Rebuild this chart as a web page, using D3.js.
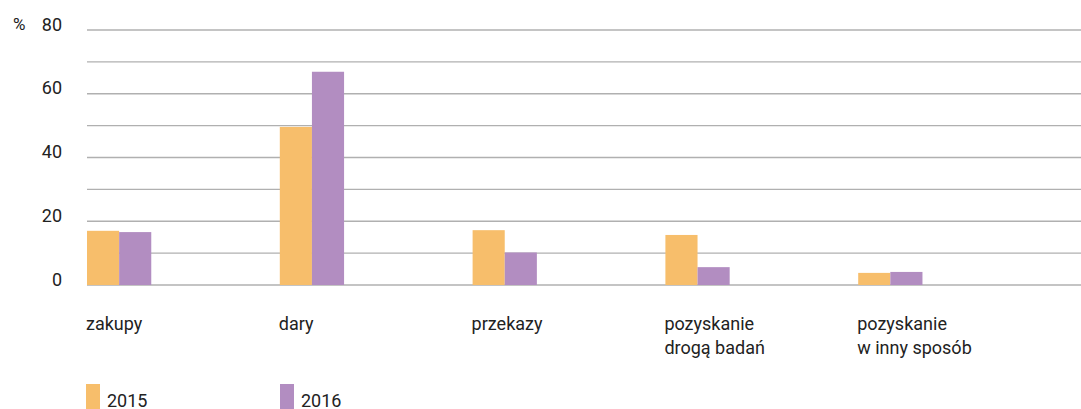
<!DOCTYPE html>
<html>
<head>
<meta charset="utf-8">
<script src="https://cdn.jsdelivr.net/npm/d3@7"></script>
<style>
  html, body { margin: 0; padding: 0; background: #fff; }
  svg { display: block; font-family: Roboto, "Noto Sans", sans-serif; }
</style>
</head>
<body>
<div id="chart"></div>
<script>
// dane (%)
var categories = [
  ["zakupy"],
  ["dary"],
  ["przekazy"],
  ["pozyskanie", "drogą badań"],
  ["pozyskanie", "w inny sposób"]
];
var series = ["2015", "2016"];
var values2015 = [17.0, 49.6, 17.2, 15.7, 3.8];
var values2016 = [16.6, 66.9, 10.2, 5.6, 4.1];
var yTicks = [0, 20, 40, 60, 80];
var gridTicks = [0, 10, 20, 30, 40, 50, 60, 70, 80];
var colors = ["#f7be6b", "#b28dc1"];

var width = 1081, height = 409;
var svg = d3.select("#chart").append("svg")
  .attr("width", width)
  .attr("height", height);

var catKeys = categories.map(function(c){ return c.join(" "); });
var x0 = d3.scaleBand().domain(catKeys).range([87, 1051]).paddingInner(0).paddingOuter(0);
var x1 = d3.scaleBand().domain(series).range([0, x0.bandwidth() / 3]);
var y = d3.scaleLinear().domain([0, 80]).range([285, 30]);

// linie siatki
svg.append("g")
  .selectAll("line")
  .data(gridTicks)
  .enter()
  .append("line")
  .attr("x1", 87)
  .attr("x2", width)
  .attr("y1", function(d){ return y(d); })
  .attr("y2", function(d){ return y(d); })
  .attr("stroke", "#b0b0b0")
  .attr("stroke-width", 1.4);

// oś Y
var yAxis = d3.axisLeft(y).tickValues(yTicks).tickSize(0).tickPadding(0);
var gy = svg.append("g").attr("transform", "translate(62,0)").call(yAxis);
gy.select(".domain").remove();
gy.selectAll("text")
  .attr("dy", 0)
  .attr("font-size", 18)
  .attr("font-family", "Roboto, sans-serif")
  .attr("fill", "#222");

svg.append("text")
  .attr("x", 13)
  .attr("y", y(80) - 0.5)
  .attr("font-size", 17)
  .attr("fill", "#222")
  .text("%");

// słupki
var data = [values2015, values2016];
var groups = svg.append("g")
  .selectAll("g")
  .data(series)
  .enter()
  .append("g")
  .attr("fill", function(d, i){ return colors[i]; });

groups.selectAll("rect")
  .data(function(s, i){
    return data[i].map(function(v, j){ return {key: catKeys[j], s: s, v: v}; });
  })
  .enter()
  .append("rect")
  .attr("x", function(d){ return x0(d.key) + x1(d.s); })
  .attr("width", x1.bandwidth())
  .attr("y", function(d){ return y(d.v); })
  .attr("height", function(d){ return y(0) - y(d.v); });

// etykiety kategorii
var labels = svg.append("g")
  .selectAll("text")
  .data(categories)
  .enter()
  .append("text")
  .attr("x", function(d, i){ return x0(catKeys[i]) - 1; })
  .attr("y", 330)
  .attr("font-size", 18)
  .attr("fill", "#222");

labels.selectAll("tspan")
  .data(function(d){ return d; })
  .enter()
  .append("tspan")
  .attr("x", function(){ return d3.select(this.parentNode).attr("x"); })
  .attr("dy", function(d, i){ return i == 0 ? 0 : 24; })
  .text(function(d){ return d; });

// legenda
var legendX = [86, 280];
var legend = svg.append("g")
  .selectAll("g")
  .data(series)
  .enter()
  .append("g")
  .attr("transform", function(d, i){ return "translate(" + legendX[i] + ",384)"; });

legend.append("rect")
  .attr("width", 14)
  .attr("height", 25)
  .attr("fill", function(d, i){ return colors[i]; });

legend.append("text")
  .attr("x", 21)
  .attr("y", 23)
  .attr("font-size", 18)
  .attr("fill", "#222")
  .text(function(d){ return d; });
</script>
</body>
</html>
